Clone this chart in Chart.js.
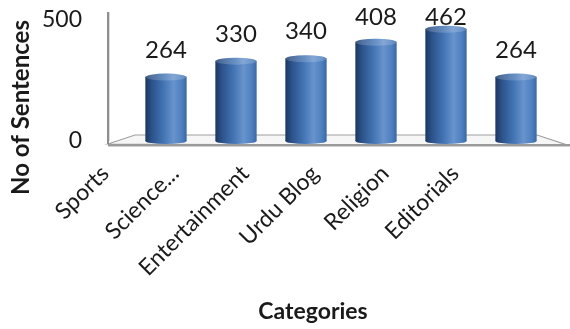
<!DOCTYPE html>
<html>
<head>
<meta charset="utf-8">
<script src="https://cdn.jsdelivr.net/npm/chart.js@4"></script>
<style>
  html, body { margin: 0; padding: 0; background: #fff; }
  #wrap { width: 570px; height: 329px; }
</style>
</head>
<body>
<div id="wrap"><canvas id="chart" width="570" height="329"></canvas></div>
<script>
// data
const categories = ['Sports', 'Science...', 'Entertainment', 'Urdu Blog', 'Religion', 'Editorials'];
const sentences = [264, 330, 340, 408, 462, 264];
const yTicks = [0, 500];
const yTitle = 'No of Sentences';
const xTitle = 'Categories';

const FONT = 'Lato, Carlito, Calibri, sans-serif';
const TEXT = '#1a1a1a';
const BAR_PCT = 0.59;

// horizontal shading so each bar looks like a cylinder
function shade(g) {
    g.addColorStop(0, '#1b365e');
    g.addColorStop(0.15, '#2b5189');
    g.addColorStop(0.45, '#4475b5');
    g.addColorStop(0.68, '#6893cd');
    g.addColorStop(0.88, '#4f80c0');
    g.addColorStop(1, '#3a67a3');
    return g;
}

function barFill(context) {
    const chart = context.chart;
    const xs = chart.scales.x;
    if (!xs || context.dataIndex === undefined) return '#4475b5';
    const centre = xs.getPixelForValue(context.dataIndex);
    const half = xs.width / categories.length * BAR_PCT / 2;
    if (!Number.isFinite(centre) || !Number.isFinite(half) || half <= 0) return '#4475b5';
    return shade(chart.ctx.createLinearGradient(centre - half, 0, centre + half, 0));
}

// floor and back wall of the 3D look
const floor3d = {
    id: 'floor3d',
    beforeDatasetsDraw(chart) {
        const { ctx, chartArea: a } = chart;
        ctx.save();
        ctx.beginPath();
        ctx.moveTo(a.left - 23, a.bottom + 3);
        ctx.lineTo(a.left + 4, a.bottom - 6);
        ctx.lineTo(a.right - 14, a.bottom - 6);
        ctx.lineTo(chart.width, a.bottom + 5);
        ctx.closePath();
        ctx.fillStyle = '#f6f6f6';
        ctx.fill();
        ctx.strokeStyle = '#a0a0a0';
        ctx.lineWidth = 1.2;
        ctx.stroke();
        ctx.fillStyle = '#9a9a9a';
        ctx.fillRect(a.left - 23, a.bottom + 3, chart.width - a.left + 23, 2);
        ctx.fillStyle = '#d0d0d0';
        ctx.fillRect(a.left - 23, a.bottom + 5, chart.width - a.left + 23, 1);
        // wall edge
        ctx.fillStyle = '#8e8e8e';
        ctx.fillRect(a.left - 24, a.top - 8, 2, a.bottom - a.top + 11);
        ctx.fillStyle = '#dadada';
        ctx.fillRect(a.left - 22, a.top - 8, 1, a.bottom - a.top + 8);
        ctx.restore();
    }
};

// cylinder caps, value labels and the two axis titles
const decorations = {
    id: 'decorations',
    afterDatasetsDraw(chart) {
        const { ctx, chartArea: a } = chart;
        const meta = chart.getDatasetMeta(0);
        ctx.save();
        meta.data.forEach((bar, i) => {
            const half = bar.width / 2;
            if (!Number.isFinite(bar.x) || !Number.isFinite(half)) return;
            const g = shade(ctx.createLinearGradient(bar.x - half, 0, bar.x + half, 0));
            ctx.fillStyle = g;
            ctx.beginPath();
            ctx.ellipse(bar.x, bar.base, half, 3, 0, 0, Math.PI * 2);
            ctx.fill();
            ctx.beginPath();
            ctx.ellipse(bar.x, bar.y, half, 3.5, 0, 0, Math.PI * 2);
            ctx.fill();
            ctx.fillStyle = 'rgba(255,255,255,0.18)';
            ctx.fill();

            ctx.fillStyle = TEXT;
            ctx.font = '24px ' + FONT;
            ctx.textAlign = 'center';
            ctx.textBaseline = 'middle';
            ctx.fillText(sentences[i], bar.x, Math.max(bar.y - 27, 17));
        });

        ctx.fillStyle = TEXT;
        ctx.textAlign = 'center';
        ctx.textBaseline = 'middle';
        ctx.font = 'bold 23px ' + FONT;
        ctx.fillText(xTitle, (a.left + a.right) / 2 - 28, chart.height - 17);

        ctx.font = 'bold 24px ' + FONT;
        ctx.translate(21, (a.top + a.bottom) / 2 + 27);
        ctx.rotate(-Math.PI / 2);
        ctx.fillText(yTitle, 0, 0);
        ctx.restore();
    }
};

new Chart(document.getElementById('chart'), {
    type: 'bar',
    data: {
        labels: categories,
        datasets: [{
            data: sentences,
            backgroundColor: barFill,
            borderWidth: 0,
            categoryPercentage: 1,
            barPercentage: BAR_PCT
        }]
    },
    options: {
        responsive: false,
        animation: false,
        devicePixelRatio: 1,
        layout: { padding: { top: 20, right: 19, left: 0, bottom: 0 } },
        plugins: {
            legend: { display: false },
            tooltip: { enabled: false }
        },
        scales: {
            x: {
                grid: { display: false, drawTicks: false },
                border: { display: false },
                ticks: {
                    color: TEXT,
                    font: { family: FONT, size: 23 },
                    minRotation: 45,
                    maxRotation: 45,
                    autoSkip: false,
                    padding: 19,
                    labelOffset: -61
                },
                afterFit: s => { s.height = 188; }
            },
            y: {
                min: 0,
                max: 500,
                grid: { display: false, drawTicks: false },
                border: { display: false },
                afterBuildTicks: s => { s.ticks = yTicks.map(v => ({ value: v })); },
                ticks: {
                    color: TEXT,
                    font: { family: FONT, size: 23 },
                    padding: 49
                },
                afterFit: s => { s.width = 131; s.paddingTop = 0; s.paddingBottom = 0; }
            }
        }
    },
    plugins: [floor3d, decorations]
});
</script>
</body>
</html>
